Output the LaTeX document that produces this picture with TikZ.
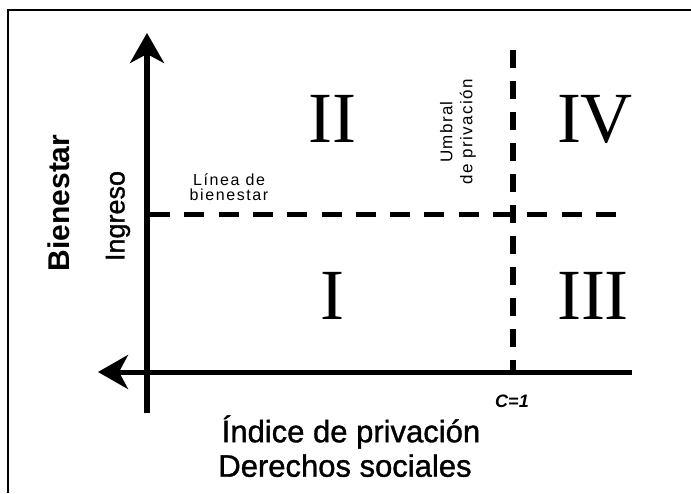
\documentclass[tikz,border=0pt]{standalone}
\usepackage{fontspec}
\setmainfont{Liberation Sans}
\newfontfamily\romanfont{Liberation Serif}
\newfontfamily\heavyfont[FakeBold=1.2]{Liberation Sans}
\usetikzlibrary{arrows.meta, positioning}

\begin{document}
\begin{tikzpicture}[x=1pt, y=-1pt, >={Stealth[length=30pt, width=34pt, inset=9pt]}, semithick]
        \tikzstyle{axis} = [draw=black, line width=6pt]
        \tikzstyle{limit} = [draw=black, line width=5pt, dash pattern=on 20pt off 14.3pt]
        \tikzstyle{quadrant} = [inner sep=0pt, font=\romanfont\fontsize{72}{72}\selectfont]
        \tikzstyle{note} = [inner sep=0pt, align=center, font=\addfontfeature{LetterSpace=10}\fontsize{16}{15}\selectfont]
        \tikzstyle{title} = [inner sep=0pt, font=\heavyfont\fontsize{31}{36}\selectfont]

        \useasboundingbox (0,0) rectangle (691,493);
        \draw[line width=2.5pt] (8,493) -- (8,10) -- (691,10);

        % axes
        \coordinate (ytop) at (147,33);
        \coordinate (ybottom) at (147,413);
        \coordinate (xleft) at (98,372);
        \coordinate (xright) at (632,372);
        \draw[axis, ->] (ybottom) -- (ytop);
        \draw[axis, line width=5pt, ->] (xright) -- (xleft);

        % thresholds
        \coordinate (wstart) at (150,214);
        \coordinate (wend) at (620,214);
        \coordinate (ctop) at (513,50);
        \coordinate (cbottom) at (513,372);
        \draw[limit] (wstart) -- (wend);
        \draw[axis, dash pattern=on 18pt off 13pt] (ctop) -- (cbottom);

        \node[quadrant](q1) at (332,296) {I};
        \node[quadrant](q2) at (332,119) {II};
        \node[quadrant](q3) at (593,296) {III};
        \node[quadrant](q4) at (595,119) {IV};

        \node[note](wline) at (229,187) {Línea de\\bienestar};
        \node[note, rotate=90, font=\addfontfeature{LetterSpace=8}\fontsize{17}{20}\selectfont](cline) at (458,132) {Umbral\\de privación};
        \node[inner sep=0pt, rotate=90, font=\heavyfont\fontsize{27}{32}\selectfont](income) at (118,216) {Ingreso};
        \node[title, rotate=90, font=\bfseries\fontsize{30}{36}\selectfont](welfare) at (59,203) {Bienestar};
        \node[inner sep=0pt, font=\bfseries\itshape\fontsize{18}{20}\selectfont](cval) at (512,401) {C=1};

        \node[title](index) at (351,432) {Índice de privación};
        \node[title](rights) [below=5pt of index, xshift=-6pt] {Derechos sociales};
\end{tikzpicture}
\end{document}
